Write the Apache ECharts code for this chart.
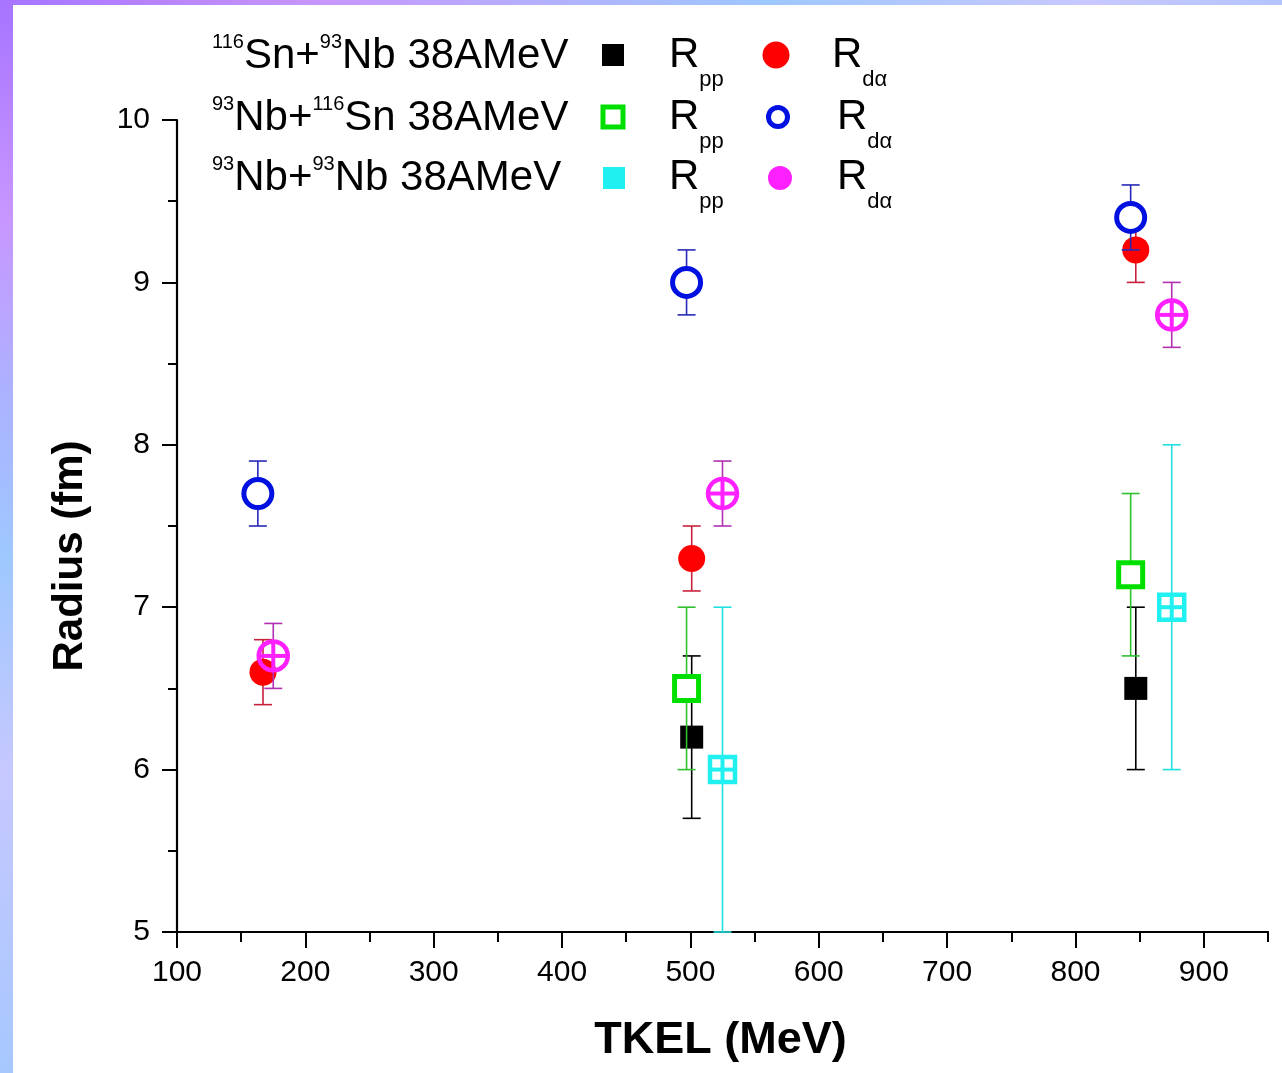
<!DOCTYPE html>
<html>
<head>
<meta charset="utf-8">
<script src="https://cdn.jsdelivr.net/npm/echarts@6/dist/echarts.min.js"></script>
<style>
html,body{margin:0;padding:0;background:#fff;}
#chart{width:1282px;height:1073px;}
</style>
</head>
<body>
<div id="chart"></div>
<script>
// ---------- data ----------
const xMajorTicks = [100, 200, 300, 400, 500, 600, 700, 800, 900];
const xMinorTicks = [150, 250, 350, 450, 550, 650, 750, 850, 950];
const yTicks = [5, 6, 7, 8, 9, 10];

// 116Sn+93Nb 38AMeV
const snNbRppX = [501, 847];
const snNbRppY = [6.2, 6.5];
const snNbRppErr = [0.5, 0.5];
const snNbRdaX = [167, 501, 847];
const snNbRdaY = [6.6, 7.3, 9.2];
const snNbRdaErr = [0.2, 0.2, 0.2];
// 93Nb+116Sn 38AMeV
const nbSnRppX = [497, 843];
const nbSnRppY = [6.5, 7.2];
const nbSnRppErr = [0.5, 0.5];
const nbSnRdaX = [163, 497, 843];
const nbSnRdaY = [7.7, 9.0, 9.4];
const nbSnRdaErr = [0.2, 0.2, 0.2];
// 93Nb+93Nb 38AMeV
const nbNbRppX = [525, 875];
const nbNbRppY = [6.0, 7.0];
const nbNbRppErr = [1.0, 1.0];
const nbNbRdaX = [175, 525, 875];
const nbNbRdaY = [6.7, 7.7, 8.8];
const nbNbRdaErr = [0.2, 0.2, 0.2];

const FONT = '"Liberation Sans", Arial, Helvetica, sans-serif';

function zip(xs, ys, es) { return xs.map((x, i) => [x, ys[i], es[i]]); }

function markerShapes(kind, cx, cy, color) {
  const out = [];
  if (kind === 'filledSquare') {
    out.push({type: 'rect', shape: {x: cx - 11.5, y: cy - 11.5, width: 23, height: 23}, style: {fill: color}});
  } else if (kind === 'filledCircle') {
    out.push({type: 'circle', shape: {cx: cx, cy: cy, r: 13.5}, style: {fill: color}});
  } else if (kind === 'openSquare') {
    out.push({type: 'rect', shape: {x: cx - 12, y: cy - 12, width: 24, height: 24}, style: {fill: '#fff', stroke: color, lineWidth: 5}});
  } else if (kind === 'openCircle') {
    out.push({type: 'circle', shape: {cx: cx, cy: cy, r: 14}, style: {fill: '#fff', stroke: color, lineWidth: 5}});
  } else if (kind === 'crossSquare') {
    out.push({type: 'rect', shape: {x: cx - 12.5, y: cy - 12.5, width: 25, height: 25}, style: {fill: 'none', stroke: color, lineWidth: 4.5}});
    out.push({type: 'line', shape: {x1: cx - 12.5, y1: cy, x2: cx + 12.5, y2: cy}, style: {stroke: color, lineWidth: 4}});
    out.push({type: 'line', shape: {x1: cx, y1: cy - 12.5, x2: cx, y2: cy + 12.5}, style: {stroke: color, lineWidth: 4}});
  } else if (kind === 'crossCircle') {
    out.push({type: 'circle', shape: {cx: cx, cy: cy, r: 14.5}, style: {fill: 'none', stroke: color, lineWidth: 4.5}});
    out.push({type: 'line', shape: {x1: cx - 14.5, y1: cy, x2: cx + 14.5, y2: cy}, style: {stroke: color, lineWidth: 4}});
    out.push({type: 'line', shape: {x1: cx, y1: cy - 14.5, x2: cx, y2: cy + 14.5}, style: {stroke: color, lineWidth: 4}});
  }
  return out;
}

function makeRender(kind, color, errColor) {
  return function (params, api) {
    const x = api.value(0), y = api.value(1), e = api.value(2);
    const c = api.coord([x, y]);
    const t = api.coord([x, y + e]);
    const b = api.coord([x, y - e]);
    const cap = 9;
    const es = {stroke: errColor, lineWidth: 1.6};
    const children = [
      {type: 'line', shape: {x1: c[0], y1: t[1], x2: c[0], y2: b[1]}, style: es},
      {type: 'line', shape: {x1: c[0] - cap, y1: t[1], x2: c[0] + cap, y2: t[1]}, style: es},
      {type: 'line', shape: {x1: c[0] - cap, y1: b[1], x2: c[0] + cap, y2: b[1]}, style: es}
    ].concat(markerShapes(kind, c[0], c[1], color));
    return {type: 'group', children: children};
  };
}

function series(name, data, kind, color, errColor) {
  return {
    type: 'custom', name: name, data: data,
    renderItem: makeRender(kind, color, errColor),
    encode: {x: 0, y: 1},
    clip: false, silent: true
  };
}

// ---------- legend graphic ----------
const reacRich = {
  m: {fontSize: 42, fontFamily: FONT, color: '#000', height: 50, verticalAlign: 'top'},
  s: {fontSize: 20, fontFamily: FONT, color: '#000', height: 22, verticalAlign: 'top'}
};
const rRich = {
  m: {fontSize: 42, fontFamily: FONT, color: '#000', height: 44, verticalAlign: 'top'},
  s: {fontSize: 22, fontFamily: FONT, color: '#000', height: 94, verticalAlign: 'top'}
};
const legendRows = [
  {label: '{s|116}{m|Sn+}{s|93}{m|Nb 38AMeV}', cy: 56, pp: 'filledSquare', ppColor: '#000', da: 'filledCircle', daColor: '#ff0000', r2x: 832},
  {label: '{s|93}{m|Nb+}{s|116}{m|Sn 38AMeV}', cy: 118, pp: 'openSquare', ppColor: '#00e000', da: 'openCircle', daColor: '#0010e0', r2x: 837},
  {label: '{s|93}{m|Nb+}{s|93}{m|Nb 38AMeV}', cy: 178, pp: 'filledSquareC', ppColor: '#20f0f0', da: 'filledCircleM', daColor: '#ff20ff', r2x: 837}
];
const graphics = [
  {type: 'rect', left: 0, top: 0, z: -10, shape: {width: 13, height: 1073},
   style: {fill: new echarts.graphic.LinearGradient(0, 0, 0, 1, [
     {offset: 0, color: '#a674ff'}, {offset: 0.2, color: '#c896ff'}, {offset: 0.38, color: '#aab4ff'},
     {offset: 0.52, color: '#9ec8ff'}, {offset: 0.72, color: '#c6c8ff'}, {offset: 1, color: '#a6c8ff'}])}},
  {type: 'rect', left: 0, top: 0, z: -10, shape: {width: 1282, height: 5},
   style: {fill: new echarts.graphic.LinearGradient(0, 0, 1, 0, [
     {offset: 0, color: '#a674ff'}, {offset: 0.25, color: '#c896ff'}, {offset: 0.45, color: '#b0b4ff'},
     {offset: 0.6, color: '#9ec8ff'}, {offset: 0.85, color: '#c8c8ff'}, {offset: 1, color: '#b4c4ff'}])}}
];
legendRows.forEach(function (row) {
  graphics.push({type: 'text', x: 212, y: row.cy - 25, style: {text: row.label, rich: reacRich, align: 'left', verticalAlign: 'top'}});
  graphics.push({type: 'text', x: 669, y: row.cy - 23, style: {text: '{m|R}{s|pp}', rich: rRich, align: 'left', verticalAlign: 'top'}});
  graphics.push({type: 'text', x: row.r2x, y: row.cy - 23, style: {text: '{m|R}{s|dα}', rich: rRich, align: 'left', verticalAlign: 'top'}});
  const px = 613, dx = 777, cy = row.cy - 1;
  if (row.pp === 'filledSquare') graphics.push({type: 'rect', shape: {x: px - 11, y: cy - 11, width: 22, height: 22}, style: {fill: row.ppColor}});
  if (row.pp === 'openSquare') graphics.push({type: 'rect', shape: {x: px - 10, y: cy - 10, width: 20, height: 20}, style: {fill: '#fff', stroke: row.ppColor, lineWidth: 5}});
  if (row.pp === 'filledSquareC') graphics.push({type: 'rect', shape: {x: px - 10, y: cy - 10, width: 22, height: 22}, style: {fill: row.ppColor}});
  if (row.da === 'filledCircle') graphics.push({type: 'circle', shape: {cx: dx - 1, cy: cy, r: 13.5}, style: {fill: row.daColor}});
  if (row.da === 'openCircle') graphics.push({type: 'circle', shape: {cx: dx + 1, cy: cy, r: 9.5}, style: {fill: '#fff', stroke: row.daColor, lineWidth: 5}});
  if (row.da === 'filledCircleM') graphics.push({type: 'circle', shape: {cx: dx + 3, cy: cy + 1, r: 12}, style: {fill: row.daColor}});
});

const chart = echarts.init(document.getElementById('chart'), null, {renderer: 'canvas'});
chart.setOption({
  backgroundColor: '#fff',
  animation: false,
  grid: {left: 177, top: 120, width: 1091, height: 812, containLabel: false},
  xAxis: [{
    type: 'value', min: 100, max: 950, interval: 50,
    name: 'TKEL (MeV)', nameLocation: 'middle', nameGap: 86,
    nameTextStyle: {fontSize: 45, fontWeight: 'bold', fontFamily: FONT, color: '#000', padding: [0, 4, 0, 0]},
    axisLine: {show: true, onZero: false, lineStyle: {color: '#000', width: 2.2}},
    axisTick: {show: true, inside: false, length: 16, customValues: xMajorTicks, lineStyle: {color: '#000', width: 2}},
    axisLabel: {show: true, customValues: xMajorTicks, margin: 26, fontSize: 30, fontFamily: FONT, color: '#000'},
    splitLine: {show: false}
  }, {
    type: 'value', min: 100, max: 950, interval: 50, position: 'bottom', gridIndex: 0,
    axisLine: {show: false},
    axisTick: {show: true, inside: false, length: 10, customValues: xMinorTicks, lineStyle: {color: '#000', width: 2}},
    axisLabel: {show: false},
    splitLine: {show: false}
  }],
  yAxis: {
    type: 'value', min: 5, max: 10, interval: 1,
    name: 'Radius (fm)', nameLocation: 'middle', nameGap: 86, nameRotate: 90,
    nameTextStyle: {fontSize: 42, fontWeight: 'bold', fontFamily: FONT, color: '#000', padding: [0, 60, 0, 0]},
    axisLine: {show: true, onZero: false, lineStyle: {color: '#000', width: 2.2}},
    axisTick: {show: true, inside: false, length: 15, lineStyle: {color: '#000', width: 2}},
    minorTick: {show: true, splitNumber: 2, length: 9, lineStyle: {color: '#000', width: 2}},
    axisLabel: {show: true, margin: 27, fontSize: 30, fontFamily: FONT, color: '#000'},
    splitLine: {show: false}, minorSplitLine: {show: false}
  },
  graphic: graphics,
  series: [
    series('116Sn+93Nb Rpp', zip(snNbRppX, snNbRppY, snNbRppErr), 'filledSquare', '#000000', '#000000'),
    series('116Sn+93Nb Rdα', zip(snNbRdaX, snNbRdaY, snNbRdaErr), 'filledCircle', '#ff0000', '#c8203c'),
    series('93Nb+116Sn Rpp', zip(nbSnRppX, nbSnRppY, nbSnRppErr), 'openSquare', '#00e000', '#30c030'),
    series('93Nb+116Sn Rdα', zip(nbSnRdaX, nbSnRdaY, nbSnRdaErr), 'openCircle', '#0010e0', '#2828b8'),
    series('93Nb+93Nb Rpp', zip(nbNbRppX, nbNbRppY, nbNbRppErr), 'crossSquare', '#20f0f0', '#20e0e0'),
    series('93Nb+93Nb Rdα', zip(nbNbRdaX, nbNbRdaY, nbNbRdaErr), 'crossCircle', '#ff20ff', '#b030b0')
  ]
});
</script>
</body>
</html>
